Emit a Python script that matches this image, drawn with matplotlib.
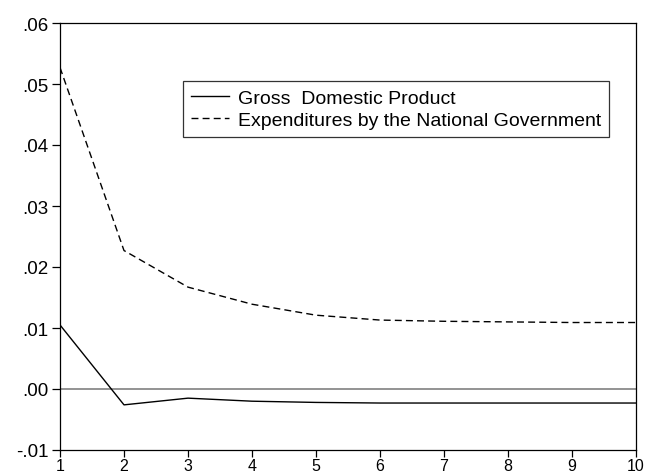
import matplotlib
matplotlib.use("Agg")
import matplotlib.pyplot as plt
from matplotlib.ticker import FuncFormatter

plt.rcParams["font.family"] = ["Liberation Sans", "DejaVu Sans"]

periods = [1, 2, 3, 4, 5, 6, 7, 8, 9, 10]
gdp = [0.0105, -0.0026, -0.0015, -0.0020, -0.0022, -0.0023, -0.0023, -0.0023, -0.0023, -0.0023]
expenditures = [0.0527, 0.0227, 0.0167, 0.0139, 0.0121, 0.0113, 0.0111, 0.0110, 0.0109, 0.0109]
y_ticks = [-0.01, 0.00, 0.01, 0.02, 0.03, 0.04, 0.05, 0.06]


def fmt(v, pos):
    s = f"{v:.2f}"
    return s.replace("0.", ".", 1)


fig = plt.figure(figsize=(6.47, 4.77), dpi=100)
ax = fig.add_axes([60 / 647, 1 - 451 / 477, 576 / 647, 427 / 477])

ax.axhline(0, color="#808080", linewidth=1.2, zorder=1)
ax.plot(periods, gdp, color="black", linewidth=1.0, label="Gross  Domestic Product")
ax.plot(periods, expenditures, color="black", linewidth=1.0, linestyle=(0, (5, 3)),
        label="Expenditures by the National Government")

ax.set_xlim(1, 10)
ax.set_ylim(-0.01, 0.06)
ax.set_xticks(periods)
ax.set_yticks(y_ticks)
ax.yaxis.set_major_formatter(FuncFormatter(fmt))
ax.tick_params(direction="out", length=5.5, width=0.9)
ax.tick_params(axis="y", labelsize=13.5, pad=3)
# x labels sit right at the bottom edge, keep them small enough to fit
ax.tick_params(axis="x", labelsize=11.5, pad=0.5, length=5)
for sp in ax.spines.values():
    sp.set_linewidth(0.9)

# legend box sits inside the plot, upper middle
leg = ax.legend(loc="upper left", bbox_to_anchor=((183 - 60) / 576, (451 - 82) / 427),
                frameon=True, fancybox=False, edgecolor="black", fontsize=14,
                handlelength=1.95, handletextpad=0.45, borderpad=0.42, labelspacing=0.25,
                borderaxespad=0)
leg.get_frame().set_linewidth(0.9)

fig.savefig("out.png", dpi=100)
